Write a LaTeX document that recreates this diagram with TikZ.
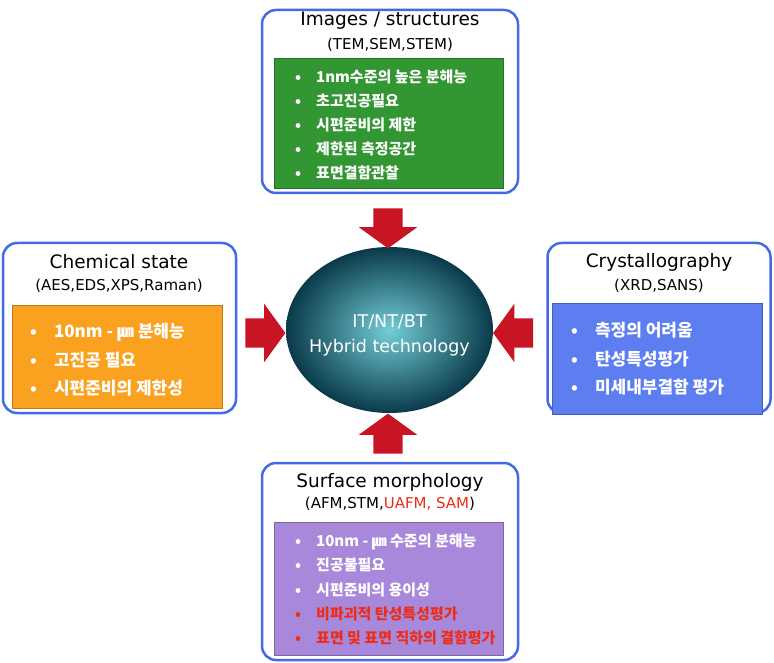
\documentclass[tikz,border=0pt]{standalone}
\usepackage{fontspec}
\usepackage{tikz}
\usetikzlibrary{shapes.geometric,shapes.arrows,shadows}
\newfontfamily\kr{Noto Sans CJK KR}
\newfontfamily\lat{DejaVu Sans}
\definecolor{frameblue}{RGB}{66,106,230}
\definecolor{boxgreen}{RGB}{50,150,50}
\definecolor{boxorange}{RGB}{250,162,32}
\definecolor{boxblue}{RGB}{92,126,240}
\definecolor{boxpurple}{RGB}{168,136,218}
\definecolor{arrowred}{RGB}{200,20,35}
\definecolor{notered}{RGB}{235,45,25}
\definecolor{tealdark}{RGB}{10,58,74}
\definecolor{teallight}{RGB}{115,205,215}
\tikzset{
    outer-box/.style = {draw=frameblue, fill=white, line width=2.5pt, rectangle, rounded corners=14pt},
    inner-box/.style = {rectangle, fill=#1, draw=#1!75!black, line width=0.6pt, drop shadow={shadow xshift=1.2pt, shadow yshift=-1.2pt, opacity=0.35}},
    box-title/.style = {font=\lat\fontsize{18.5}{20}\selectfont},
    box-sub/.style = {font=\lat\fontsize{15}{16}\selectfont},
    item-list/.style 2 args = {text=white, align=left, inner sep=0pt, anchor=west, font=\kr\bfseries\fontsize{#1}{#2}\selectfont},
    big-arrow/.style = {single arrow, fill=arrowred, inner sep=14.5pt, single arrow head extend=14.5pt, single arrow tip angle=108, minimum height=40pt, shape border rotate=#1},
}

\begin{document}
\begin{tikzpicture}[x=1pt, y=-1pt]
\useasboundingbox (0,0) rectangle (774,663);

% frames
\node [outer-box, minimum width=256pt, minimum height=183pt] (images) at (390,101.5) {};
\node [outer-box, minimum width=233pt, minimum height=170pt] (chemical) at (119.5,328) {};
\node [outer-box, minimum width=223pt, minimum height=170pt] (crystal) at (659,328) {};
\node [outer-box, minimum width=256pt, minimum height=197pt] (surface) at (390,561.5) {};

% coloured panels
\node [inner-box=boxgreen, minimum width=229pt, minimum height=130pt] (images-panel) at (388.5,123) {};
\node [inner-box=boxorange, minimum width=210pt, minimum height=103pt] (chemical-panel) at (117,356.5) {};
\node [inner-box=boxblue, minimum width=210pt, minimum height=111pt] (crystal-panel) at (657,358.5) {};
\node [inner-box=boxpurple, minimum width=229pt, minimum height=133pt] (surface-panel) at (388.5,588.5) {};

% titles
\node [box-title] (images-title) at (390,21) {Images / structures};
\node [box-sub] (images-sub) at (390,45) {(TEM,SEM,STEM)};
\node [box-title] (chemical-title) at (119,262) {Chemical state};
\node [box-sub] (chemical-sub) at (119,286) {(AES,EDS,XPS,Raman)};
\node [box-title] (crystal-title) at (659,262) {Crystallography};
\node [box-sub] (crystal-sub) at (659,286) {(XRD,SANS)};
\node [box-title] (surface-title) at (390,482) {Surface morphology};
\node [box-sub] (surface-sub) at (390,504) {(AFM,STM,\textcolor{notered}{UAFM, SAM})};

% lists
\node [item-list={15}{24}] (images-list) at (295,125) {%
  \textbullet\quad 1nm수준의 높은 분해능\\
  \textbullet\quad 초고진공필요\\
  \textbullet\quad 시편준비의 제한\\
  \textbullet\quad 제한된 측정공간\\
  \textbullet\quad 표면결함관찰};
\node [item-list={17}{28.5}] (chemical-list) at (30,360) {%
  \textbullet\quad 10nm - ㎛ 분해능\\
  \textbullet\quad 고진공 필요\\
  \textbullet\quad 시편준비의 제한성};
\node [item-list={17}{28.5}] (crystal-list) at (571,359) {%
  \textbullet\quad 측정의 어려움\\
  \textbullet\quad 탄성특성평가\\
  \textbullet\quad 미세내부결함 평가};
\node [item-list={15}{24.2}] (surface-list) at (295,589.5) {%
  \textbullet\quad 10nm - ㎛ 수준의 분해능\\
  \textbullet\quad 진공불필요\\
  \textbullet\quad 시편준비의 용이성\\
  \textcolor{notered}{\textbullet\quad 비파괴적 탄성특성평가}\\
  \textcolor{notered}{\textbullet\quad 표면 및 표면 직하의 결함평가}};

% centre
\node [ellipse, minimum width=207pt, minimum height=166pt, inner color=teallight, outer color=tealdark] (hybrid) at (389.5,330) {};
\node [text=white, align=center, font=\lat\fontsize{17.5}{25}\selectfont] (hybrid-text) at (389.5,335) {IT/NT/BT\\Hybrid technology};

% arrows
\node [big-arrow=270] (arrow-top) at (388,223) {};
\node [big-arrow=0] (arrow-left) at (260,333) {};
\node [big-arrow=180] (arrow-right) at (518.5,333) {};
\node [big-arrow=90] (arrow-bottom) at (388,439) {};
\end{tikzpicture}
\end{document}
